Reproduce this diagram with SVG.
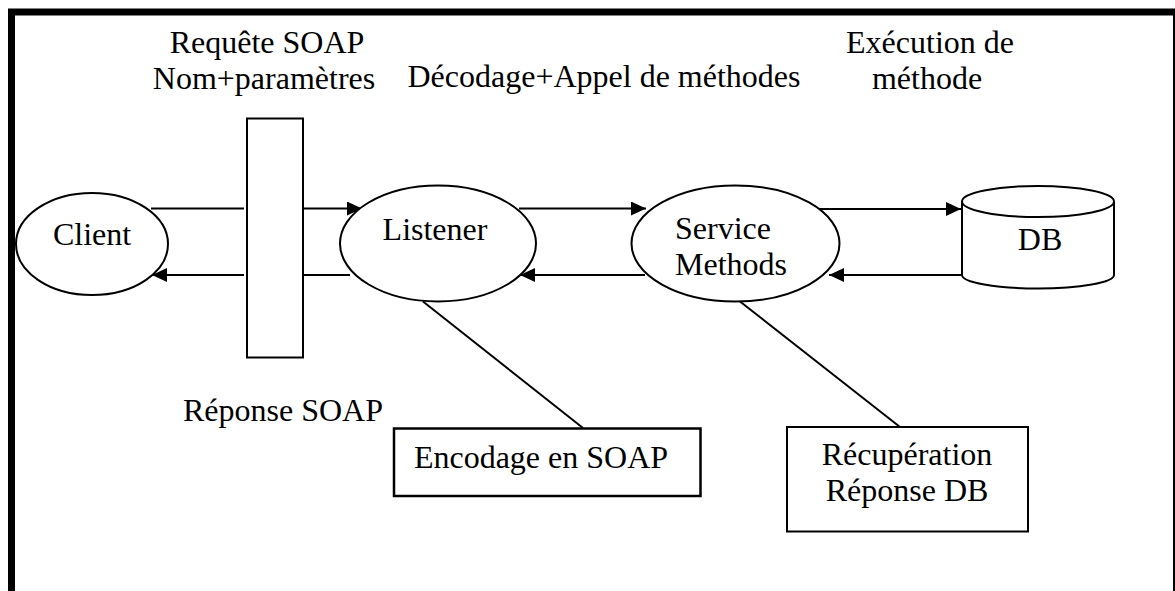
<svg xmlns="http://www.w3.org/2000/svg" width="1175" height="591" viewBox="0 0 1175 591">
<style>
text{font-family:'Liberation Serif','Times New Roman',Tinos,'DejaVu Serif',serif;font-size:32px;fill:#000}
.s{fill:#fff;stroke:#000;stroke-width:2}
.c{fill:none;stroke:#000;stroke-width:2}
.m{text-anchor:middle}
</style>
<defs>
<marker id="ah" markerUnits="userSpaceOnUse" markerWidth="16" markerHeight="14" refX="15" refY="7" orient="auto">
<path d="M0,0 L15,7 L0,14 Z" fill="#000"/>
</marker>
</defs>
<rect width="1175" height="591" fill="#fff"/>
<path d="M11.5,600 V12 H1176.5 V600" fill="none" stroke="#000" stroke-width="7"/>
<g font-family="Liberation Serif, serif">
<g id="labels">
<text class="m" x="267" y="53">Requête SOAP</text>
<text class="m" x="264" y="89">Nom+paramètres</text>
<text class="m" x="604" y="87">Décodage+Appel de méthodes</text>
<text class="m" x="930" y="53">Exécution de</text>
<text class="m" x="927" y="89">méthode</text>
<text class="m" x="283" y="421">Réponse SOAP</text>
</g>
<g id="connectors">
<line class="c" x1="151" y1="208.5" x2="244" y2="208.5"/>
<line class="c" x1="302" y1="208.5" x2="362" y2="208.5" marker-end="url(#ah)"/>
<line class="c" x1="244" y1="275" x2="152" y2="275" marker-end="url(#ah)"/>
<line class="c" x1="350" y1="275" x2="302" y2="275"/>
<line class="c" x1="519" y1="208.5" x2="646" y2="208.5" marker-end="url(#ah)"/>
<line class="c" x1="645" y1="275" x2="520" y2="275" marker-end="url(#ah)"/>
<line class="c" x1="818" y1="209" x2="961" y2="209" marker-end="url(#ah)"/>
<line class="c" x1="961" y1="275" x2="829" y2="275" marker-end="url(#ah)"/>
<line class="c" x1="423" y1="301.5" x2="583" y2="428"/>
<line class="c" x1="740" y1="301.5" x2="900" y2="427"/>
</g>
<g id="gateway"><rect class="s" x="247" y="118.5" width="56" height="239"/></g>
<g id="client">
<ellipse class="s" cx="92" cy="244" rx="76" ry="51"/>
<text class="m" x="92" y="245">Client</text>
</g>
<g id="listener">
<ellipse class="s" cx="438" cy="243.5" rx="98" ry="58"/>
<text class="m" x="435" y="240">Listener</text>
</g>
<g id="service">
<ellipse class="s" cx="735.5" cy="243.5" rx="104" ry="58"/>
<text x="675" y="239">Service</text>
<text x="675" y="275">Methods</text>
</g>
<g id="db">
<path class="s" d="M962,201.5 V275 A76,13.5 0 0 0 1114,275 V201.5"/>
<ellipse class="s" cx="1038" cy="201.5" rx="76" ry="15.5"/>
<text class="m" x="1040" y="250">DB</text>
</g>
<g id="encodage">
<rect x="394" y="428.5" width="306.5" height="67.5" fill="#fff" stroke="#000" stroke-width="2.5"/>
<text class="m" x="541" y="468">Encodage en SOAP</text>
</g>
<g id="recuperation">
<rect class="s" x="787" y="427" width="241" height="104.5"/>
<text class="m" x="907" y="465">Récupération</text>
<text class="m" x="907" y="501">Réponse DB</text>
</g>
</g>
</svg>
